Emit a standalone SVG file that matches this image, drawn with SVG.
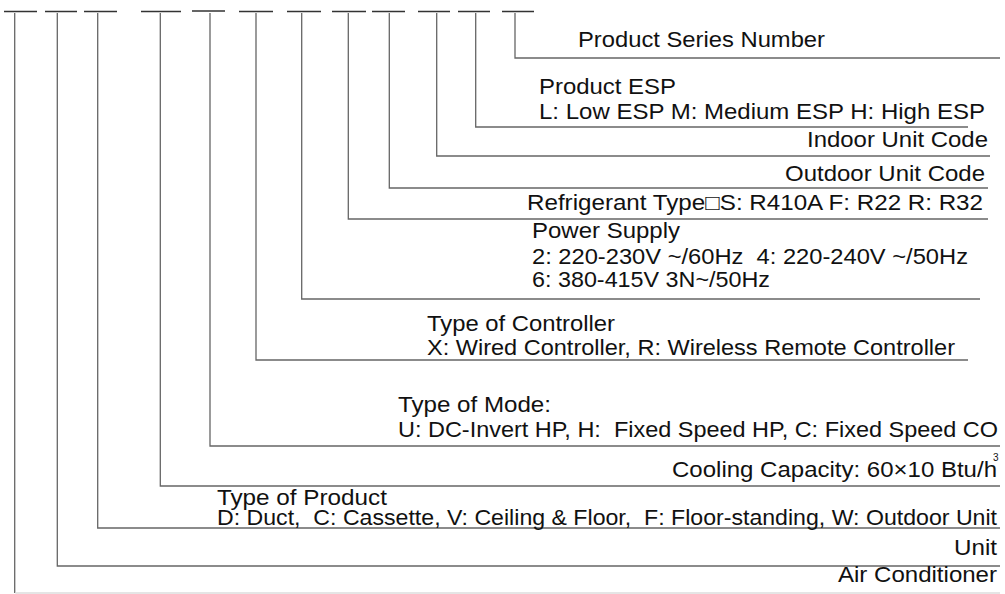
<svg xmlns="http://www.w3.org/2000/svg" width="1005" height="594" viewBox="0 0 1005 594">
<style>
.t{font-family:"Liberation Sans",Arial,sans-serif;font-size:22px;fill:#111}
.e{text-anchor:end}
.sup{font-family:"Liberation Sans",Arial,sans-serif;font-size:10px;fill:#111}
.ln{stroke:#666;stroke-width:1.3;fill:none}
.dash{stroke:#333;stroke-width:1.5;fill:none}
.base{stroke:#ddd;stroke-width:1.3;fill:none}
</style>
<rect width="1005" height="594" fill="#fff"/>
<g id="code-slots">
<path class="dash" d="M4 11.5H37M45 11.5H77M84 11.5H117M141 11.5H181M192 11H225M239 11.5H273M287 11.5H321M332 11.5H366M372 11.5H405M418 11.5H450M458 11.5H490M502 11.5H534"/>
</g>
<g id="connectors">
<path class="ln" d="M515 13V58H1000"/>
<path class="ln" d="M475.7 13V127H968"/>
<path class="ln" d="M436.7 13V156H990"/>
<path class="ln" d="M389.3 13V188H988"/>
<path class="ln" d="M348.3 13V219H988"/>
<path class="ln" d="M301.7 13V299H980"/>
<path class="ln" d="M256 13V360H968"/>
<path class="ln" d="M210 13V446H1000"/>
<path class="ln" d="M160.3 13V486H1000"/>
<path class="ln" d="M97.7 13V528H1000"/>
<path class="ln" d="M57.3 13V566H1000"/>
<path class="ln" d="M14.7 13V593"/>
<path class="base" d="M15.3 593H1000"/>
</g>
<g id="series"><text class="t" x="578" y="47" textLength="247" lengthAdjust="spacingAndGlyphs">Product Series Number</text></g>
<g id="esp"><text class="t" x="539" y="94" textLength="137" lengthAdjust="spacingAndGlyphs">Product ESP</text><text class="t" x="539" y="119" textLength="446" lengthAdjust="spacingAndGlyphs">L: Low ESP M: Medium ESP H: High ESP</text></g>
<g id="indoor"><text class="t e" x="988" y="147" textLength="181" lengthAdjust="spacingAndGlyphs">Indoor Unit Code</text></g>
<g id="outdoor"><text class="t e" x="985" y="181" textLength="200" lengthAdjust="spacingAndGlyphs">Outdoor Unit Code</text></g>
<g id="refrigerant"><text class="t" x="527" y="210" textLength="456" lengthAdjust="spacingAndGlyphs">Refrigerant Type□S: R410A F: R22 R: R32</text></g>
<g id="power"><text class="t" x="532" y="238" textLength="148" lengthAdjust="spacingAndGlyphs">Power Supply</text><text class="t" x="532" y="264" textLength="436" lengthAdjust="spacingAndGlyphs" xml:space="preserve">2: 220-230V ~/60Hz  4: 220-240V ~/50Hz</text><text class="t" x="532" y="287" textLength="238" lengthAdjust="spacingAndGlyphs">6: 380-415V 3N~/50Hz</text></g>
<g id="controller"><text class="t" x="427" y="331" textLength="188" lengthAdjust="spacingAndGlyphs">Type of Controller</text><text class="t" x="427" y="355" textLength="528" lengthAdjust="spacingAndGlyphs">X: Wired Controller, R: Wireless Remote Controller</text></g>
<g id="mode"><text class="t" x="398" y="412" textLength="153" lengthAdjust="spacingAndGlyphs">Type of Mode:</text><text class="t" x="398" y="437" textLength="600" lengthAdjust="spacingAndGlyphs" xml:space="preserve">U: DC-Invert HP, H:  Fixed Speed HP, C: Fixed Speed CO</text></g>
<g id="capacity"><text class="sup" x="993" y="461">3</text><text class="t e" x="997" y="477" textLength="325" lengthAdjust="spacingAndGlyphs">Cooling Capacity: 60×10 Btu/h</text></g>
<g id="product"><text class="t" x="217" y="505" textLength="170" lengthAdjust="spacingAndGlyphs">Type of Product</text><text class="t" x="217" y="525" textLength="780" lengthAdjust="spacingAndGlyphs" xml:space="preserve">D: Duct,  C: Cassette, V: Ceiling &amp; Floor,  F: Floor-standing, W: Outdoor Unit</text></g>
<g id="unit"><text class="t e" x="997" y="555" textLength="43" lengthAdjust="spacingAndGlyphs">Unit</text></g>
<g id="air-conditioner"><text class="t e" x="997" y="582" textLength="159" lengthAdjust="spacingAndGlyphs">Air Conditioner</text></g>
</svg>
